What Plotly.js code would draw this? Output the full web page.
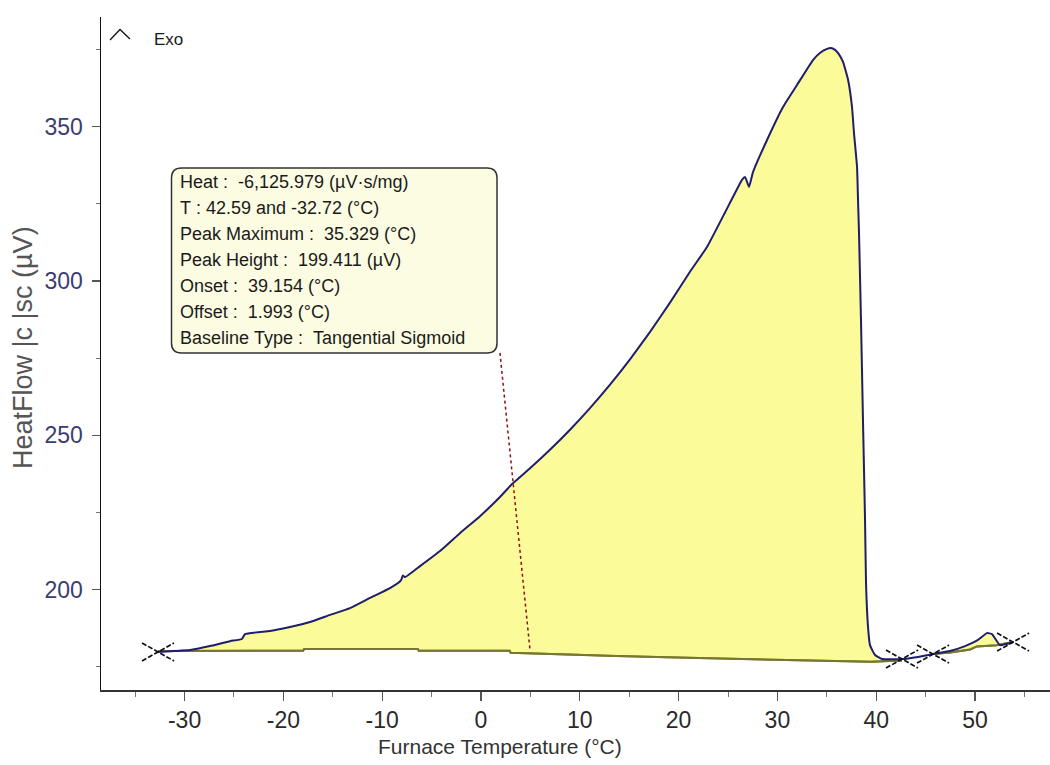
<!DOCTYPE html>
<html>
<head>
<meta charset="utf-8">
<script src="https://cdn.plot.ly/plotly-3.0.1.min.js"></script>
<style>
html,body{margin:0;padding:0;background:#fff;}
#chart{width:1050px;height:765px;}
</style>
</head>
<body>
<div id="chart"></div>
<script>
// ---- data ----
const tempC = [-32.69,-30.97,-29.45,-27.43,-25.40,-24.2,-23.89,-21.36,-19.33,-17.31,-15.28,-13.26,-11.23,-9.21,-8.1,-7.9,-7.7,-6.17,-4.15,-2.13,-0.10,1.92,3.14,4.96,6.98,9.01,11.03,13.06,15.08,17.11,19.13,21.15,22.87,24.6,26.42,26.72,27.13,27.53,28.95,30.57,31.98,33.60,34.3,35.02,35.4,35.83,36.2,36.64,37.15,37.55,37.75,38.06,38.16,38.26,38.46,38.66,38.87,38.97,39.17,39.37,39.88,40.59,42.61,44.23,45.75,47.47,48.99,50.30,51.21,51.72,52.53,53.85];
const heatFlow = [179.8,180.1,180.4,181.7,183.3,184.0,185.6,186.6,187.9,189.5,191.8,194.0,197.3,200.5,203.0,204.6,204.0,207.6,212.5,218.3,223.8,230.0,234.2,239.3,245.3,251.8,258.8,266.4,274.6,283.5,293.0,303.0,311.0,321.6,332.8,333.7,330.5,335.3,345.7,356.4,363.5,371.6,373.9,375.2,375.5,374.9,373.6,371.0,365.2,356.4,348.0,337.0,326.2,315.6,287.4,255.0,222.6,202.1,187.9,182.0,178.8,177.5,177.5,178.2,179.1,180.1,181.7,183.7,185.9,185.6,182.0,183.0];

const baseX = [-32.69,-18.0,-17.9,-6.4,-6.3,2.9,3.0,8.8,13.7,22.0,30.0,39.5,42.61];
const baseY = [180.1,180.2,180.75,180.75,180.2,180.2,179.55,179.1,178.5,177.8,177.2,176.6,177.0];

const base2X = [45.75,47.5,49.5,50.2,52.2,53.85];
const base2Y = [179.1,179.6,180.6,181.6,182.0,183.0];

const crossX = [-32.69,42.61,45.75,53.85];
const crossY = [179.8,177.5,179.1,183.0];

const leaderX = [1.92,4.96];
const leaderY = [276.7,180.4];

const xTicks = [-30,-20,-10,0,10,20,30,40,50];
const yTicks = [200,250,300,350];

const boxLines = [
  "Heat :  -6,125.979 (µV·s/mg)",
  "T : 42.59 and -32.72 (°C)",
  "Peak Maximum :  35.329 (°C)",
  "Peak Height :  199.411 (µV)",
  "Onset :  39.154 (°C)",
  "Offset :  1.993 (°C)",
  "Baseline Type :  Tangential Sigmoid"
];
const exoLabel = "Exo";
const xTitle = "Furnace Temperature (°C)";
const yTitle = "HeatFlow |c |sc (µV)";

// ---- layout geometry ----
const W = 1050, H = 765;
const M = {l:101, r:0, t:17, b:75};
const xRange = [-38.46, 57.59];
const yRange = [167.47, 385.55];
const plotW = W - M.l - M.r, plotH = H - M.t - M.b;
const pxPerX = plotW / (xRange[1]-xRange[0]);
const pxPerY = plotH / (yRange[1]-yRange[0]);
const px = v => (v - M.l) / plotW;          // pixel x -> paper
const py = v => (H - M.b - v) / plotH;      // pixel y -> paper

// fill segments from the curve
const inRange = (a,b) => tempC.map((x,i)=>i).filter(i => tempC[i] >= a && tempC[i] <= b);
const mainIdx = inRange(-32.7, 42.62);
const humpIdx = inRange(47.0, 52.6);

const fillColor = '#fbfb9a';
const baseStyle = {color:'#77772e', width:2};
const curveShape = {shape:'spline', smoothing:0.4};
const traces = [];
traces.push({x: baseX, y: baseY, mode:'lines', line:baseStyle, hoverinfo:'skip', showlegend:false});
traces.push({x: mainIdx.map(i=>tempC[i]), y: mainIdx.map(i=>heatFlow[i]), mode:'lines', line:Object.assign({width:0, color:fillColor}, curveShape), fill:'tonexty', fillcolor:fillColor, hoverinfo:'skip', showlegend:false});
traces.push({x: base2X, y: base2Y, mode:'lines', line:baseStyle, hoverinfo:'skip', showlegend:false});
traces.push({x: humpIdx.map(i=>tempC[i]), y: humpIdx.map(i=>heatFlow[i]), mode:'lines', line:Object.assign({width:0, color:fillColor}, curveShape), fill:'tonexty', fillcolor:fillColor, hoverinfo:'skip', showlegend:false});
// baselines on top of fill
traces.push({x: baseX, y: baseY, mode:'lines', line:baseStyle, hoverinfo:'skip', showlegend:false});
traces.push({x: base2X, y: base2Y, mode:'lines', line:baseStyle, hoverinfo:'skip', showlegend:false});
// main curve
traces.push({x: tempC, y: heatFlow, mode:'lines', line:Object.assign({color:'#1e1e6a', width:2}, curveShape), hoverinfo:'skip', showlegend:false});
// leader dotted line
traces.push({x: leaderX, y: leaderY, mode:'lines', line:{color:'#8a1010', width:1.5, dash:'dot'}, hoverinfo:'skip', showlegend:false});
// crosses
const cdx = 16/pxPerX, cdy = 9/pxPerY;
const cx = [], cy = [];
crossX.forEach((x,i)=>{
  const y = crossY[i];
  cx.push(x-cdx, x+cdx, null, x-cdx, x+cdx, null);
  cy.push(y+cdy, y-cdy, null, y-cdy, y+cdy, null);
});
traces.push({x: cx, y: cy, mode:'lines', line:{color:'#111', width:1.7, dash:'5px,2px'}, hoverinfo:'skip', showlegend:false, connectgaps:false});

// rounded box path (paper coords)
const bL=171.5, bR=497, bT=168, bB=353, r=10;
const boxPath = [
  'M', px(bL+r), py(bT),
  'L', px(bR-r), py(bT),
  'Q', px(bR), py(bT), px(bR), py(bT+r),
  'L', px(bR), py(bB-r),
  'Q', px(bR), py(bB), px(bR-r), py(bB),
  'L', px(bL+r), py(bB),
  'Q', px(bL), py(bB), px(bL), py(bB-r),
  'L', px(bL), py(bT+r),
  'Q', px(bL), py(bT), px(bL+r), py(bT), 'Z'
].join(' ');
const caretPath = `M ${px(110)} ${py(40)} L ${px(120)} ${py(29.5)} L ${px(130)} ${py(39)}`;

const annotations = boxLines.map((t,i)=>({
  xref:'paper', yref:'paper', x: px(177.5), y: py(181.7 + i*26.05),
  xanchor:'left', yanchor:'middle', showarrow:false,
  text: t.replace(/ /g,'\u00a0'),
  font:{family:'Liberation Sans, Arial, sans-serif', size:18, color:'#1a1a1a'}
}));
annotations.push({xref:'paper', yref:'paper', x:px(152), y:py(40), xanchor:'left', yanchor:'middle', showarrow:false, text:exoLabel, font:{family:'Liberation Sans, Arial, sans-serif', size:17, color:'#1a1a1a'}});
annotations.push({xref:'paper', yref:'paper', x:px(500), y:py(746), xanchor:'center', yanchor:'middle', showarrow:false, text:xTitle, font:{family:'Liberation Sans, Arial, sans-serif', size:21, color:'#333'}});
annotations.push({xref:'paper', yref:'paper', x:px(23), y:py(348), xanchor:'center', yanchor:'middle', showarrow:false, textangle:-90, text:yTitle, font:{family:'Liberation Sans, Arial, sans-serif', size:27, color:'#555'}});

const layout = {
  width: W, height: H,
  margin: M,
  paper_bgcolor:'#fff', plot_bgcolor:'#fff',
  showlegend:false, hovermode:false,
  xaxis:{
    range:xRange, tickvals:xTicks, ticktext:xTicks.map(String),
    showgrid:false, zeroline:false, showline:true, linecolor:'#333', linewidth:1.5,
    ticks:'outside', ticklen:9, tickwidth:1.2, tickcolor:'#555',
    minor:{dtick:5, tick0:0, ticks:'outside', ticklen:5, tickwidth:1, tickcolor:'#777', showgrid:false},
    tickfont:{family:'Liberation Sans, Arial, sans-serif', size:23, color:'#2a2a2a'},
    ticklabelstandoff: 0
  },
  yaxis:{
    range:yRange, tickvals:yTicks, ticktext:yTicks.map(String),
    showgrid:false, zeroline:false, showline:true, linecolor:'#111', linewidth:1.5,
    ticks:'outside', ticklen:8, tickwidth:1.2, tickcolor:'#555',
    minor:{dtick:25, tick0:0, ticks:'outside', ticklen:4, tickwidth:1, tickcolor:'#777', showgrid:false},
    tickfont:{family:'Liberation Sans, Arial, sans-serif', size:23, color:'#3c3c72'},
    ticklabelstandoff: 4
  },
  shapes:[
    {type:'path', xref:'paper', yref:'paper', path: boxPath, fillcolor:'#fcfce3', line:{color:'#333', width:1.5}, layer:'above'},
    {type:'path', xref:'paper', yref:'paper', path: caretPath, line:{color:'#111', width:1.3}}
  ],
  annotations: annotations
};

Plotly.newPlot('chart', traces, layout, {displayModeBar:false, staticPlot:true});
</script>
</body>
</html>
